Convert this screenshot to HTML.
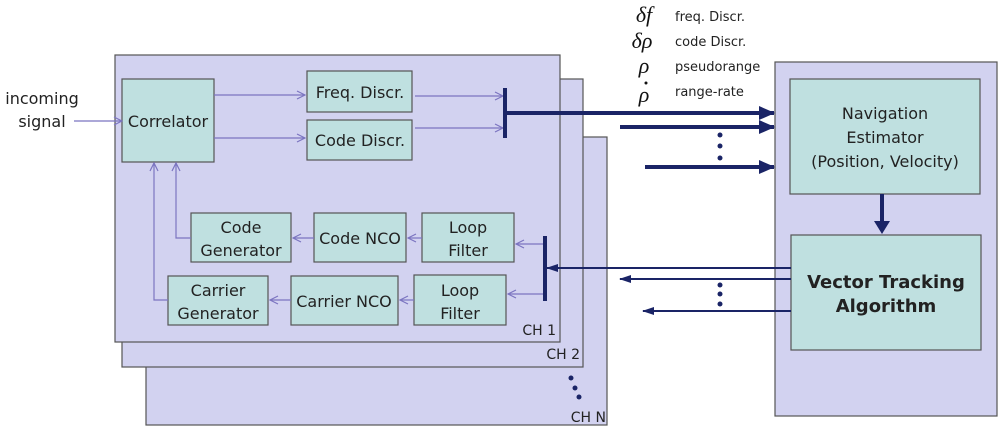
<!DOCTYPE html>
<html><head><meta charset="utf-8"><style>
body{margin:0;background:#fff;}
svg{display:block;font-family:"DejaVu Sans","Liberation Sans",sans-serif;}
</style></head><body>
<svg width="1000" height="428" viewBox="0 0 1000 428" xmlns="http://www.w3.org/2000/svg">
<defs>
<marker id="thin" markerWidth="10" markerHeight="10" refX="9" refY="5" orient="auto" markerUnits="userSpaceOnUse"><path d="M1,1 L9,5 L1,9" fill="none" stroke="#7b74c0" stroke-width="1.2"/></marker>
<marker id="big" markerWidth="16" markerHeight="14" refX="15" refY="7" orient="auto" markerUnits="userSpaceOnUse"><path d="M0,0 L16,7 L0,14 Z" fill="#1a2466"/></marker>
<marker id="sm" markerWidth="12" markerHeight="8" refX="11" refY="4" orient="auto" markerUnits="userSpaceOnUse"><path d="M0,0 L12,4 L0,8 Z" fill="#1a2466"/></marker>
</defs>
<g stroke="#555" stroke-width="1.2" fill="#d2d2f0">
<rect x="146" y="137" width="461" height="288"/>
<rect x="122" y="79" width="461" height="288"/>
<rect x="115" y="55" width="445" height="287"/>
<rect x="775" y="62" width="222" height="354"/>
</g>
<g stroke="#555" stroke-width="1.2" fill="#bfe0e0">
<rect x="122" y="79" width="92" height="83"/>
<rect x="307" y="71" width="105" height="41"/>
<rect x="307" y="120" width="105" height="40"/>
<rect x="191" y="213" width="100" height="49"/>
<rect x="314" y="213" width="92" height="49"/>
<rect x="422" y="213" width="92" height="49"/>
<rect x="168" y="276" width="100" height="49"/>
<rect x="291" y="276" width="107" height="49"/>
<rect x="414" y="275" width="92" height="50"/>
<rect x="790" y="79" width="190" height="115"/>
<rect x="791" y="235" width="190" height="115"/>
</g>
<g stroke="#7b74c0" stroke-width="1.2" fill="none" marker-end="url(#thin)">
<path d="M74,121 L122,121"/>
<path d="M214,95 L305,95"/>
<path d="M214,138 L305,138"/>
<path d="M415,96 L503,96"/>
<path d="M415,128 L503,128"/>
<path d="M545,244 L516,244"/>
<path d="M545,294 L508,294"/>
<path d="M314,238 L293,238"/>
<path d="M422,238 L408,238"/>
<path d="M414,300 L400,300"/>
<path d="M291,300 L270,300"/>
<path d="M191,238 L176,238 L176,163"/>
<path d="M168,300 L154,300 L154,163"/>
</g>
<g stroke="#1a2466" fill="none">
<path d="M505,88 L505,138" stroke-width="4"/>
<path d="M505,113 L774,113" stroke-width="4" marker-end="url(#big)"/>
<path d="M620,127 L774,127" stroke-width="4" marker-end="url(#big)"/>
<path d="M645,167 L774,167" stroke-width="4" marker-end="url(#big)"/>
<path d="M882,194 L882,222" stroke-width="4"/>
<path d="M545,236 L545,301" stroke-width="4"/>
<path d="M791,268 L547,268" stroke-width="2" marker-end="url(#sm)"/>
<path d="M791,279 L620,279" stroke-width="2" marker-end="url(#sm)"/>
<path d="M791,311 L643,311" stroke-width="2" marker-end="url(#sm)"/>
</g>
<path d="M874,221 L890,221 L882,234 Z" fill="#1a2466"/>
<g fill="#1a2466">
<circle cx="720" cy="135" r="2.5"/><circle cx="720" cy="146" r="2.5"/><circle cx="720" cy="158" r="2.5"/>
<circle cx="720" cy="285" r="2.5"/><circle cx="720" cy="294" r="2.5"/><circle cx="720" cy="304" r="2.5"/>
<circle cx="571" cy="378" r="2.5"/><circle cx="575" cy="388" r="2.5"/><circle cx="579" cy="397" r="2.5"/>
</g>
<g fill="#222" font-size="16" text-anchor="middle">
<text x="168" y="127">Correlator</text>
<text x="360" y="98">Freq. Discr.</text>
<text x="360" y="146">Code Discr.</text>
<text x="241" y="233">Code</text><text x="241" y="256">Generator</text>
<text x="360" y="244">Code NCO</text>
<text x="468" y="233">Loop</text><text x="468" y="256">Filter</text>
<text x="218" y="296">Carrier</text><text x="218" y="319">Generator</text>
<text x="344" y="307">Carrier NCO</text>
<text x="460" y="296">Loop</text><text x="460" y="319">Filter</text>
<text x="42" y="104">incoming</text><text x="42" y="127">signal</text>
<text x="885" y="119">Navigation</text>
<text x="885" y="143">Estimator</text>
<text x="885" y="167">(Position, Velocity)</text>
<text x="886" y="288" font-weight="bold" font-size="18">Vector Tracking</text>
<text x="886" y="312" font-weight="bold" font-size="18">Algorithm</text>
</g>
<g fill="#222" font-size="14" text-anchor="end">
<text x="556" y="335">CH 1</text>
<text x="580" y="359">CH 2</text>
<text x="606" y="422">CH N</text>
</g>
<g fill="#222" font-size="13">
<text x="675" y="21">freq. Discr.</text>
<text x="675" y="46">code Discr.</text>
<text x="675" y="71">pseudorange</text>
<text x="675" y="96">range-rate</text>
</g>
<g fill="#111" font-family="Liberation Serif,serif" font-style="italic" font-size="22" text-anchor="middle">
<text x="644" y="22">δf</text>
<text x="642" y="48">δρ</text>
<text x="644" y="73">ρ</text>
<text x="644" y="102">ρ</text>
</g>
<circle cx="646" cy="83" r="1.5" fill="#111"/>
</svg>
</body></html>
